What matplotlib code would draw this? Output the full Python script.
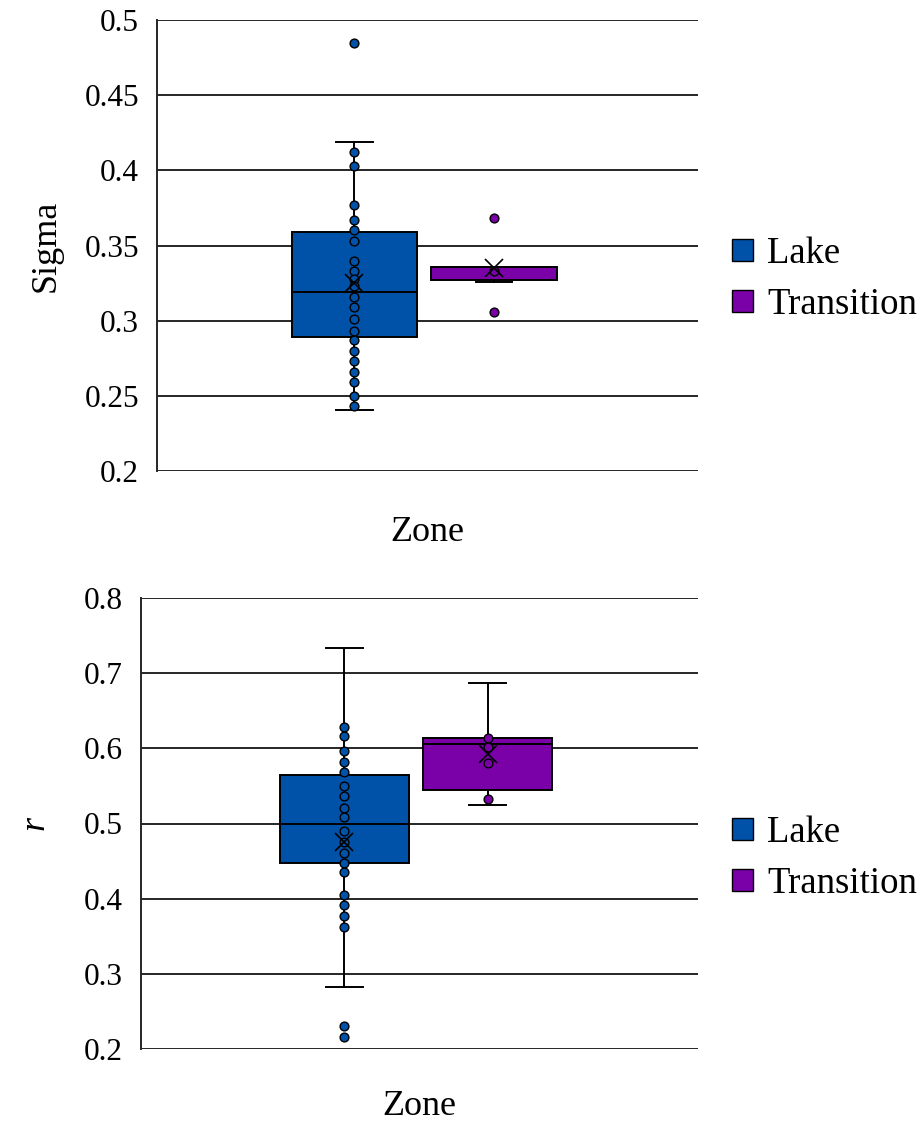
import numpy as np
import matplotlib
matplotlib.use('Agg')
import matplotlib.pyplot as plt
from matplotlib.patches import Patch

plt.rcParams['font.family'] = ['Liberation Serif', 'DejaVu Serif']

# zones and colours
zones = ['Lake', 'Transition']
zone_colors = ['#0051A8', '#7A00A8']

# Sigma: individual values per zone
sigma_lake = [0.485, 0.412, 0.403, 0.377, 0.367, 0.360, 0.353, 0.340, 0.333,
              0.328, 0.323, 0.316, 0.309, 0.301, 0.293, 0.287, 0.280, 0.273,
              0.266, 0.259, 0.250, 0.243]
sigma_trans = [0.368, 0.333, 0.306]
# box summaries: whisker low, q1, median, q3, whisker high, mean
sigma_lake_box = [0.2406, 0.289, 0.319, 0.359, 0.4186, 0.325]
sigma_trans_box = [0.3257, 0.327, 0.3355, 0.336, 0.336, 0.335]
sigma_ticks = [0.2, 0.25, 0.3, 0.35, 0.4, 0.45, 0.5]
sigma_ticklabels = ['0.2', '0.25', '0.3', '0.35', '0.4', '0.45', '0.5']

# r: individual values per zone
r_lake = [0.629, 0.617, 0.597, 0.582, 0.569, 0.550, 0.537, 0.521, 0.509,
          0.490, 0.476, 0.461, 0.448, 0.435, 0.405, 0.391, 0.377, 0.362,
          0.230, 0.216]
r_trans = [0.614, 0.602, 0.581, 0.533]
r_lake_box = [0.283, 0.447, 0.500, 0.565, 0.733, 0.476]
r_trans_box = [0.5245, 0.545, 0.606, 0.614, 0.687, 0.593]
r_ticks = [0.2, 0.3, 0.4, 0.5, 0.6, 0.7, 0.8]
r_ticklabels = ['0.2', '0.3', '0.4', '0.5', '0.6', '0.7', '0.8']


def box_stats(s):
    return dict(whislo=s[0], q1=s[1], med=s[2], q3=s[3], whishi=s[4], mean=s[5])


def draw_panel(ax, points, boxes, ticks, ticklabels, ylabel, ylabel_style,
               ylabel_x, xlabel_y):
    positions = [1, 2]
    stats = [box_stats(b) for b in boxes]
    line = dict(color='black', linewidth=1.4)
    bp = ax.bxp(stats, positions=positions, widths=0.9, capwidths=0.26,
                patch_artist=True, showmeans=True, showfliers=False,
                boxprops=dict(edgecolor='black', linewidth=1.4),
                medianprops=line, whiskerprops=line, capprops=line,
                meanprops=dict(marker='x', markersize=13, markeredgecolor='black',
                               markeredgewidth=1.2, zorder=5))
    for patch, c in zip(bp['boxes'], zone_colors):
        patch.set_facecolor(c)
        patch.set_zorder(2)
    for pos, vals, c in zip(positions, points, zone_colors):
        ax.scatter(np.full(len(vals), pos), vals, s=40, facecolor=c,
                   edgecolor='black', linewidth=1.0, zorder=4)

    ax.set_xlim(-0.416, 3.464)
    ax.set_ylim(ticks[0], ticks[-1])
    ax.set_xticks([])
    ax.set_yticks(ticks)
    ax.set_yticklabels(ticklabels)
    ax.tick_params(axis='y', length=0, pad=13, labelsize=22.5)
    ax.yaxis.grid(True, color='#262626', linewidth=1.4)
    ax.set_axisbelow(True)
    for side in ['top', 'right', 'bottom']:
        ax.spines[side].set_visible(False)
    ax.spines['left'].set_color('#262626')
    ax.spines['left'].set_linewidth(1.4)

    ax.set_xlabel('Zone', fontsize=26)
    ax.xaxis.set_label_coords(0.5, xlabel_y)
    ax.set_ylabel(ylabel, fontsize=26, fontstyle=ylabel_style)
    ax.yaxis.set_label_coords(ylabel_x, 0.5)


W, H = 921, 1123
fig = plt.figure(figsize=(W / 100, H / 100), dpi=100)

ax1 = fig.add_axes([157 / W, 1 - 471 / H, 541 / W, 451 / H])
draw_panel(ax1, [sigma_lake, sigma_trans],
           [sigma_lake_box, sigma_trans_box],
           sigma_ticks, sigma_ticklabels, 'Sigma', 'normal', -0.175, -0.1)

ax2 = fig.add_axes([141 / W, 1 - 1049 / H, 557 / W, 451 / H])
draw_panel(ax2, [r_lake, r_trans],
           [r_lake_box, r_trans_box],
           r_ticks, r_ticklabels, 'r', 'italic', -0.16, -0.092)

handles = [Patch(facecolor=c, edgecolor='black', linewidth=1.0) for c in zone_colors]
for yc in [279, 858]:
    fig.legend(handles, zones, loc='center left',
               bbox_to_anchor=(732 / W, 1 - yc / H), frameon=False,
               fontsize=26.5, handlelength=0.56, handleheight=0.56,
               handletextpad=0.4, labelspacing=0.45, borderpad=0,
               borderaxespad=0)

fig.savefig('out.png', dpi=100)
